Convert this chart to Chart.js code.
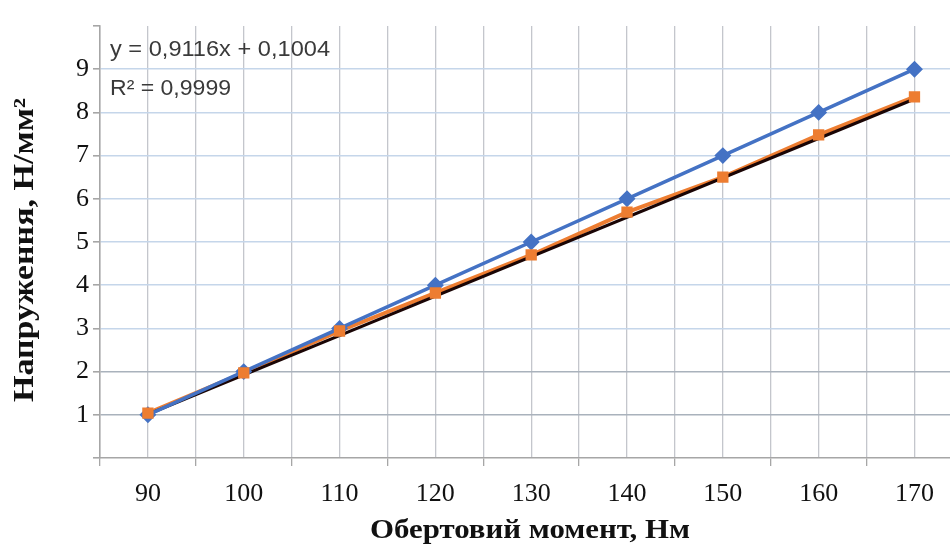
<!DOCTYPE html>
<html><head><meta charset="utf-8">
<script src="https://cdn.jsdelivr.net/npm/chart.js@4"></script>
<style>html,body{margin:0;padding:0;background:#fff;overflow:hidden}#w{width:960px;height:548px;position:relative}canvas{display:block}</style>
</head><body><div id="w"><canvas id="c"></canvas></div>
<script>
const torque = [90, 100, 110, 120, 130, 140, 150, 160, 170];
const stressA = [1, 2, 3, 4, 5, 6, 7, 8, 9];
const stressB = [1.04, 1.97, 2.94, 3.82, 4.70, 5.69, 6.50, 7.48, 8.36];
const trendX = [90, 170];
const trendY = [1.01, 8.31];
const yTicks = [1, 2, 3, 4, 5, 6, 7, 8, 9];
const xTicks = [90, 100, 110, 120, 130, 140, 150, 160, 170];
const eqText = "y = 0,9116x + 0,1004";
const r2Text = "R² = 0,9999";
const xTitle = "Обертовий момент, Нм";
const yTitle = "Напруження, Н/мм²";

const pts = (xs, ys) => xs.map((x, i) => ({x, y: ys[i]}));
const serif = "'Liberation Serif','Times New Roman',serif";

function fitText(ctx, text, x, y, targetW) {
  const w = ctx.measureText(text).width;
  ctx.save();
  ctx.translate(x, y);
  ctx.scale(targetW / w, 1);
  ctx.fillText(text, 0, 0);
  ctx.restore();
}

const textPlugin = {
  id: 'texts',
  afterDraw(chart) {
    const ctx = chart.ctx;
    ctx.save();
    ctx.fillStyle = '#3a3a3a';
    ctx.font = "22px 'Liberation Sans', Arial, sans-serif";
    ctx.textAlign = 'left';
    ctx.textBaseline = 'alphabetic';
    fitText(ctx, eqText, 110, 56, 220);
    fitText(ctx, r2Text, 110, 94.5, 121);
    ctx.fillStyle = '#111';
    ctx.font = "bold 27px " + serif;
    ctx.textAlign = 'center';
    ctx.textBaseline = 'middle';
    fitText(ctx, xTitle, 530, 531, 320);
    ctx.translate(26, 250);
    ctx.rotate(-Math.PI / 2);
    ctx.font = "bold 29px " + serif;
    fitText(ctx, yTitle, 0, 0, 304);
    ctx.restore();
  }
};

new Chart(document.getElementById('c'), {
  type: 'scatter',
  data: {
    datasets: [
      {data: pts(torque, stressB), showLine: false, pointStyle: 'rect', pointRadius: 8, backgroundColor: '#ed7d31', borderColor: '#ed7d31', borderWidth: 0, order: 0},
      {data: pts(torque, stressA), showLine: true, borderColor: '#4472c4', borderWidth: 3.5, pointStyle: 'rectRot', pointRadius: 6, backgroundColor: '#4472c4', pointBorderColor: '#4472c4', order: 1},
      {data: pts(trendX, trendY), showLine: true, borderColor: '#1a0505', borderWidth: 3, pointRadius: 0, order: 2},
      {data: pts(torque, stressB), showLine: true, borderColor: '#ed7d31', borderWidth: 4, pointRadius: 0, order: 3}
    ]
  },
  options: {
    responsive: true, maintainAspectRatio: false, animation: false,
    layout: {padding: {top: 26, right: 0, left: 0, bottom: 0}},
    plugins: {legend: {display: false}, tooltip: {enabled: false}},
    scales: {
      x: {
        type: 'linear', min: 85, max: 173.76,
        afterBuildTicks: s => { const t = []; for (let v = 85; v <= 173; v += 5) t.push({value: v}); s.ticks = t; },
        afterFit: s => { s.height = 90; s.paddingRight = 0; s.paddingLeft = 0; },
        border: {color: '#a6a6a6', width: 1.5},
        grid: {
          color: c => '#c4c6cc', lineWidth: 1.3,
          tickLength: 8,
          tickColor: c => (c.tick && c.tick.value % 10 === 5) ? '#a6a6a6' : 'rgba(0,0,0,0)'
        },
        ticks: {
          color: '#111', font: {family: serif, size: 26}, padding: 13,
          callback: v => xTicks.includes(v) ? String(v) : ''
        }
      },
      y: {
        min: 0, max: 10,
        afterBuildTicks: s => { const t = []; for (let v = 0; v <= 10; v++) t.push({value: v}); s.ticks = t; },
        afterFit: s => { s.width = 100; s.paddingTop = 0; s.paddingBottom = 0; },
        border: {color: '#a6a6a6', width: 1.5},
        grid: {
          color: c => {
            const v = c.tick ? c.tick.value : -1;
            if (v === 0 || v === 10) return 'rgba(0,0,0,0)';
            if (v <= 2) return '#a9b2bc';
            return '#c5d6ea';
          },
          lineWidth: 1.6, tickLength: 7,
          tickColor: '#a6a6a6'
        },
        ticks: {
          color: '#111', font: {family: serif, size: 26}, padding: 4,
          callback: v => yTicks.includes(v) ? String(v) : ''
        }
      }
    }
  },
  plugins: [textPlugin]
});
</script></body></html>
